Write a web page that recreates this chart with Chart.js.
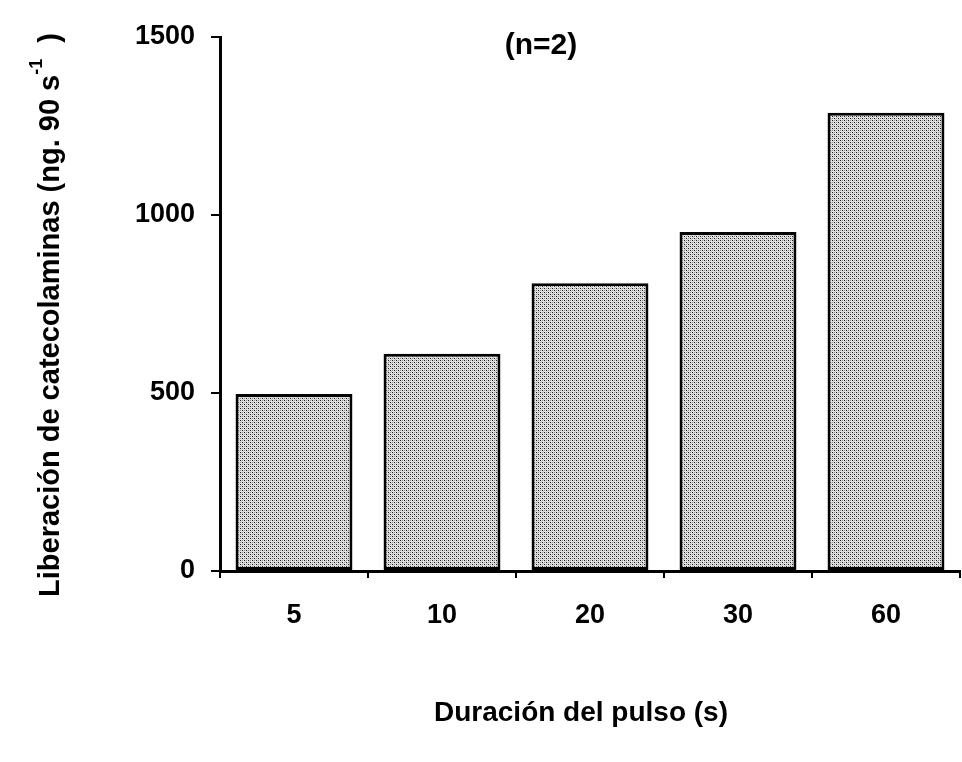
<!DOCTYPE html>
<html>
<head>
<meta charset="utf-8">
<script src="https://cdn.jsdelivr.net/npm/chart.js@4.4.1/dist/chart.umd.min.js"></script>
<style>
html,body{margin:0;padding:0;background:#fff;}
#wrap{width:962px;height:762px;position:relative;}
</style>
</head>
<body>
<div id="wrap"><canvas id="c" width="962" height="762"></canvas></div>
<script>
const categories = ["5", "10", "20", "30", "60"];
const releaseValues = [497, 610, 808, 952, 1287];
const yTicks = [0, 500, 1000, 1500];
const yTitleMain = "Liberación de catecolaminas (ng. 90 s";
const yTitleSup = "-1";
const yTitleEnd = "  )";
const xTitle = "Duración del pulso (s)";
const annotation = "(n=2)";

const FONT = "'Liberation Sans', Arial, Helvetica, sans-serif";

// stippled fill pattern
function makePattern(){
  const p = document.createElement('canvas');
  p.width = 4; p.height = 4;
  const g = p.getContext('2d');
  g.fillStyle = '#e4e4e4'; g.fillRect(0,0,4,4);
  g.fillStyle = '#1a1a1a'; g.fillRect(0,0,1,1); g.fillRect(2,2,1,1);
  g.fillStyle = '#8a8a8a'; g.fillRect(2,0,1,1); g.fillRect(0,2,1,1);
  g.fillStyle = '#c4c4c4'; g.fillRect(1,1,1,1); g.fillRect(3,3,1,1);
  return document.getElementById('c').getContext('2d').createPattern(p,'repeat');
}

const titlesPlugin = {
  id: 'titles',
  afterDraw(chart){
    const ctx = chart.ctx;
    ctx.save();
    ctx.fillStyle = '#000';
    // annotation
    ctx.font = "bold 30px " + FONT;
    ctx.textAlign = 'center';
    ctx.textBaseline = 'middle';
    ctx.fillText(annotation, 541, 46);
    // x title
    ctx.font = "bold 28px " + FONT;
    ctx.fillText(xTitle, 581, 713);
    // y title rotated with superscript
    ctx.textBaseline = 'alphabetic';
    ctx.translate(59, 0);
    ctx.rotate(-Math.PI/2);
    ctx.font = "bold 29px " + FONT;
    const wMain = ctx.measureText(yTitleMain).width;
    ctx.font = "bold 18px " + FONT;
    const wSup = ctx.measureText(yTitleSup).width;
    ctx.font = "bold 29px " + FONT;
    const wEnd = ctx.measureText(yTitleEnd).width;
    const total = wMain + wSup + wEnd;
    const cy = 315;
    let start = -(cy + total/2);
    ctx.textAlign = 'left';
    ctx.fillText(yTitleMain, start, 0);
    ctx.font = "bold 18px " + FONT;
    ctx.fillText(yTitleSup, start + wMain, -17);
    ctx.font = "bold 29px " + FONT;
    ctx.fillText(yTitleEnd, start + wMain + wSup, 0);
    ctx.restore();
  }
};

new Chart(document.getElementById('c'), {
  type: 'bar',
  data: {
    labels: categories,
    datasets: [{
      data: releaseValues,
      backgroundColor: makePattern(),
      borderColor: '#000',
      borderWidth: 3,
      borderSkipped: false,
      categoryPercentage: 1.0,
      barPercentage: 0.79
    }]
  },
  options: {
    responsive: false,
    animation: false,
    devicePixelRatio: 1,
    layout: { padding: { left: 0, right: 2, top: 37, bottom: 0 } },
    plugins: { legend: { display: false }, tooltip: { enabled: false } },
    scales: {
      x: {
        offset: true,
        grid: { drawOnChartArea: false, offset: true, color: '#000', lineWidth: 2, tickLength: 7 },
        border: { display: true, color: '#000', width: 3 },
        ticks: { color: '#000', font: { family: FONT, size: 27, weight: 'bold' }, padding: 21 },
        afterFit(scale){ scale.height = 191; }
      },
      y: {
        min: 0, max: 1500,
        afterBuildTicks(scale){ scale.ticks = yTicks.map(v => ({ value: v })); },
        grid: { drawOnChartArea: false, color: '#000', lineWidth: 2, tickLength: 9 },
        border: { display: true, color: '#000', width: 3 },
        ticks: { color: '#000', font: { family: FONT, size: 27, weight: 'bold' }, padding: 16,
                 callback: (v) => String(v) },
        afterFit(scale){ scale.width = 220; }
      }
    }
  },
  plugins: [titlesPlugin]
});
</script>
</body>
</html>
